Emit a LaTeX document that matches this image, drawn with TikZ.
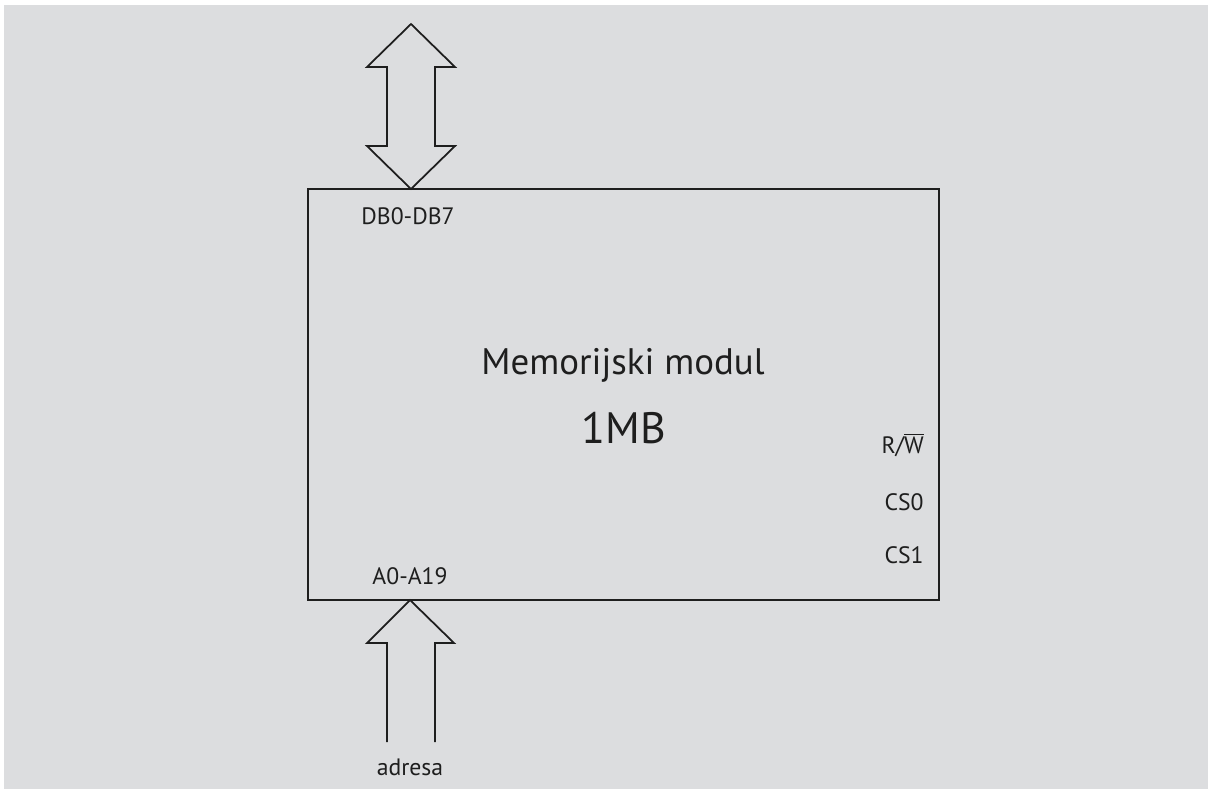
\documentclass[tikz,border=0pt]{standalone}
\usepackage{fontspec}
\setmainfont{PT Sans}
\definecolor{bg}{RGB}{220,221,223}
\definecolor{ink}{RGB}{30,30,30}

\begin{document}
\begin{tikzpicture}[x=0.02cm,y=-0.02cm]
  \tikzstyle{pin} = [font=\fontsize{13.5}{15}\selectfont, text=ink, inner sep=0pt]
  \tikzstyle{bus} = [draw=ink, line width=1pt, line join=miter]
  % background
  \fill[white] (0,0) rectangle (1208,789);
  \fill[bg] (4,5) rectangle (1208,789);
  \useasboundingbox (0,0) rectangle (1208,789);
  % memory module
  \node[draw=ink, line width=1.2pt, minimum width=12.62cm, minimum height=8.22cm,
        inner sep=0pt] (mod) at (623.5,394.5) {};
  \coordinate (dtop) at (411,189);
  \coordinate (abot) at (410,600);
  \node[font=\fontsize{21}{24}\selectfont, text=ink] (title) at (623,365) {Memorijski modul};
  \node[font=\fontsize{25}{30}\selectfont, text=ink] (size) at (624,428) {1MB};
  % pins
  \node[pin] (db) at (408,216) {DB0-DB7};
  \node[pin] (ab) at (410,576) {A0-A19};
  \node[pin, anchor=east] (rw) at (924,445) {R/$\overline{\mbox{W}}$};
  \node[pin, anchor=east] (cs0) at (924,502) {CS0};
  \node[pin, anchor=east] (cs1) at (924,555) {CS1};
  \node[pin] (adr) at (410,767) {adresa};
  % data bus (both ways)
  \path[bus]
  (dtop) -- ++(-44,-43) -- ++(20,0) -- ++(0,-79) -- ++(-20,0)
  -- (411,24) -- ++(44,43) -- ++(-20,0) -- ++(0,79) -- ++(20,0) -- cycle;
  % address bus (into module)
  \path[bus]
  (387,742) -- (387,643) -- (367,643) -- (abot) -- (454,643) -- (435,643) -- (435,742);
\end{tikzpicture}
\end{document}
